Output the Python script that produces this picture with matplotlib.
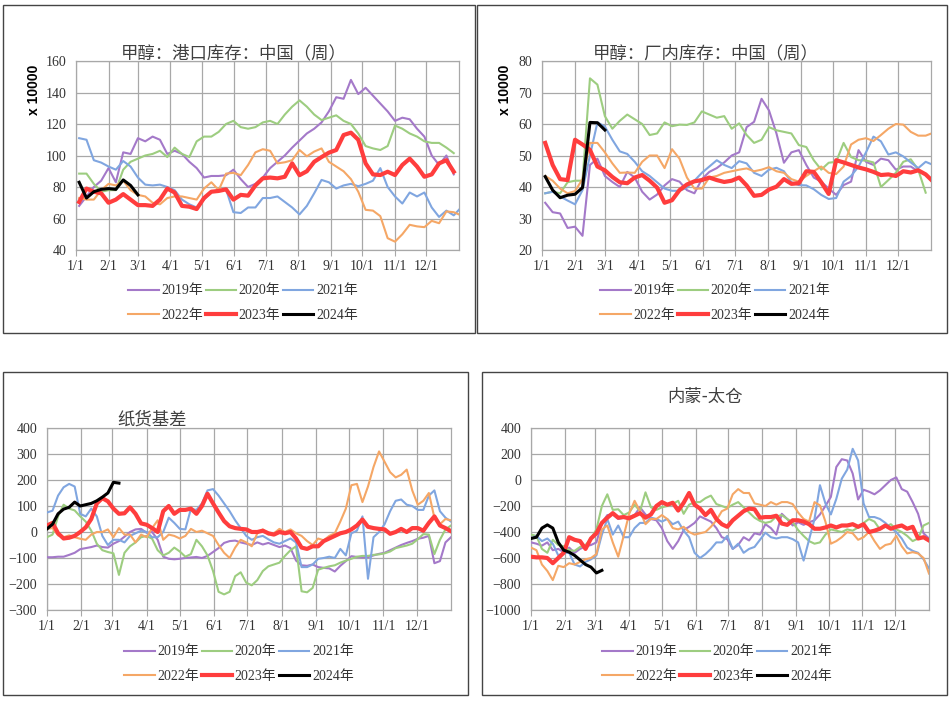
import numpy as np
import matplotlib
matplotlib.use('Agg')
import matplotlib.pyplot as plt
from matplotlib.patches import Rectangle

W, H = 949, 701

# ---- data ----
month_days = [0, 31, 59, 90, 120, 151, 181, 212, 243, 273, 304, 334]
month_labels = ['1/1', '2/1', '3/1', '4/1', '5/1', '6/1', '7/1', '8/1', '9/1', '10/1', '11/1', '12/1']
years = ['2019年', '2020年', '2021年', '2022年', '2023年', '2024年']

week_days = 3 + 7 * np.arange(53)      # weekly samples (day of year)
daily_days = np.arange(0, 366, 5)       # daily series read every 5 days

# 甲醇：港口库存 (x10000)
port_2019 = [68, 74, 80, 84, 92, 83, 102, 101, 111, 109, 112, 110, 101, 103, 101, 96, 92, 86, 87, 87,
             87.5, 91, 85, 80, 82, 86, 92, 96, 100, 105, 109.5, 114, 117, 121, 128, 137, 136, 148, 139, 143,
             138, 133, 128, 122, 124, 123, 117, 112, 100, 94, 100, 88]
port_2020 = [88.5, 88.5, 82, 77, 78, 78, 91, 96, 98, 100, 101, 103, 99, 105, 101, 99, 109, 112, 112, 115,
             120, 122, 118, 117, 118, 121, 122, 120, 126, 131, 135, 131, 126, 122.5, 124, 125.5, 122, 120, 114, 106,
             104.5, 103.5, 106, 119, 117, 114, 112, 109, 108, 108, 105, 101.5]
port_2021 = [111, 110, 97, 95.5, 93, 91, 96.5, 93, 86, 81.5, 81, 81.5, 80, 78, 72, 69, 67, 72, 77, 78,
             78.5, 64, 63.5, 67, 67, 73, 73, 74, 70.5, 67, 62.6, 68, 76, 84.5, 83, 79, 81, 82, 80.5, 82,
             84, 92, 80, 74, 69.5, 76.5, 74, 76.5, 67, 61, 65, 62, 67]
port_2022 = [73, 72, 72, 78, 82, 81, 84, 78, 75, 74, 70, 69, 73, 74, 74, 73, 72, 79, 83, 78,
             88.5, 89, 87.5, 94, 102, 104, 103, 95, 95.7, 97, 103.5, 99.5, 102.5, 104.5, 96, 93, 90, 85, 77, 65.5,
             65, 61.5, 47.5, 45.3, 50, 56, 55, 54.5, 58.5, 57, 64.5, 64, 62]
port_2023 = [70.5, 79, 77, 76, 70, 72, 75.5, 72, 68.5, 68.5, 68, 72, 79, 76.5, 68, 67.5, 66, 73, 77, 77.5,
             78.5, 72, 75, 74.5, 81, 85.5, 86, 85.5, 86.5, 95, 87.5, 90, 96, 99, 101.8, 103.5, 113, 114.5, 110, 95,
             88, 87.6, 89.7, 87.6, 94, 98, 93, 86.5, 88, 95, 97, 89.7]
port_2024 = [83, 73, 77, 78.5, 79, 78.5, 84.5, 81, 75]

# 甲醇：厂内库存 (x10000)
factory_2019 = [35, 32, 31.6, 27, 27.4, 24.5, 47, 49, 43.5, 41.6, 40, 44.8, 43, 38.5, 36, 37.6, 40.5, 42.5, 41.7, 39,
                38, 42.5, 44.8, 46, 47.8, 50, 51, 59, 60.7, 68, 64.3, 57, 47.7, 51, 51.7, 47, 43, 41.7, 39.5, 37.5,
                40.6, 41.7, 51.7, 48, 47, 49, 48.5, 45.5, 46.5, 46.5, 45]
factory_2020 = [38, 38.5, 38, 41.5, 42, 42, 74.5, 72.5, 62.5, 58.5, 61, 63, 61.5, 60, 56.5, 57, 60.5, 59.3, 59.8, 59.7,
                60.5, 64, 63, 62, 62.5, 58.5, 60.2, 56.5, 54, 55, 59, 58, 57.5, 57, 53.3, 52.7, 48.5, 45.5, 47.7, 48,
                54, 49.5, 48.5, 48.4, 47.8, 40, 42.2, 44.5, 48, 48.8, 45.5, 38.2]
factory_2021 = [38, 38.5, 37, 35.7, 34.5, 39, 50, 60.5, 59.2, 55, 51.3, 50.5, 48, 45, 43.5, 41.5, 39.5, 38.8, 38.8, 39.8,
                42, 44.5, 46.5, 48.5, 47, 46, 48.2, 47.5, 44.5, 43.5, 45.5, 46.1, 45, 41.5, 40.6, 40.5, 39.3, 37.5, 36.2, 36.5,
                41.7, 43.5, 46.5, 51, 56, 54.5, 50.3, 51, 49.7, 47.8, 46, 48, 47]
factory_2022 = [43.5, 42, 39.5, 38, 38.7, 42.5, 54, 54, 51, 47.5, 44.5, 44.6, 44.5, 48, 50, 50, 46, 52, 49, 43,
                39.5, 39.5, 43, 43.5, 44.5, 45, 45.5, 45.9, 45, 45.5, 46.3, 45, 44.5, 42.5, 41.7, 43.5, 45, 46.5, 44.5, 44.1,
                46.5, 53.5, 55, 55.5, 54.6, 56.5, 58.5, 60, 59.8, 57.5, 56.3, 56.3, 57.2]
factory_2023 = [54, 47, 42.5, 42.2, 55, 53.5, 51.8, 46.5, 45.3, 43.2, 41.5, 41.2, 43, 43.8, 42, 39.8, 35, 35.8, 39, 40.8,
                41.8, 42.2, 43, 42.2, 41.6, 42, 43, 40.5, 37.2, 37.5, 39.2, 40.1, 42.5, 41, 41.2, 45, 44.8, 41.5, 37.8, 48.5,
                47.8, 47, 46.2, 45.6, 44.8, 43.8, 44, 43.5, 45, 44.6, 45.3, 44, 41.7]
factory_2024 = [43.3, 39, 36.6, 37.4, 37.7, 39.8, 60.5, 60.4, 58.1]

# 纸货基差
basis_2019 = [-97, -97, -95, -95, -88, -80, -66, -62, -58, -52, -58, -60, -45, -35, -18, 0, 10, 12, -3, 0,
              -30, -95, -103, -105, -103, -100, -98, -96, -100, -92, -77, -62, -42, -35, -33, -40, -45, -50, -40, -48,
              -42, -50, -58, -52, -62, -110, -128, -130, -125, -135, -138, -140, -152, -130, -112, -93, -96, -98, -97, -90,
              -84, -80, -70, -60, -50, -42, -35, -26, -22, -15, -120, -112, -40, -20]
basis_2020 = [-20, -10, 60, 105, 90, 83, 60, 40, 5, -45, -70, -77, -82, -165, -80, -55, -40, -20, -15, -26,
              -70, -90, -80, -60, -75, -95, -85, -30, -55, -90, -150, -230, -240, -230, -170, -155, -195, -205, -185, -150,
              -132, -125, -118, -92, -70, -55, -228, -232, -215, -145, -138, -132, -128, -118, -110, -103, -95, -92, -92, -88,
              -86, -82, -75, -62, -57, -52, -45, -28, -8, -10, -85, -30, 10, 25]
basis_2021 = [75, 82, 140, 172, 185, 175, 70, 60, 90, 60, -15, -50, -30, -30, -40, -15, -5, 5, 0, -20,
              -20, 0, 55, 35, 12, 10, 89, 85, 110, 160, 165, 140, 110, 80, 45, 15, -15, -30, -20, -15,
              -28, -40, -45, -35, -25, -40, -135, -135, -125, -103, -100, -95, -100, -65, -90, -5, 5, 60, -180, -20,
              0, 30, 80, 120, 125, 105, 100, 85, 85, 140, 160, 80, 55, 40]
basis_2022 = [12, 15, -13, -20, -13, -20, -26, -30, -10, 0, 0, 10, -20, 15, -10, -10, -40, -10, -20, 15,
              45, -30, -10, -15, -25, -15, 12, 0, 5, -5, -15, -50, -80, -100, -60, -30, -40, -55, -5, 10,
              -10, -5, 12, 0, 10, -5, -15, -35, -50, -25, -32, -15, -5, 40, 90, 180, 185, 115, 175, 250,
              310, 270, 230, 210, 220, 240, 160, 105, 120, 150, 55, 30, 50, 45]
basis_2023 = [25, 35, -5, -25, -22, -15, 0, 18, 50, 110, 130, 118, 90, 70, 72, 95, 70, 33, 28, 15,
              0, 80, 100, 70, 85, 85, 90, 70, 100, 147, 110, 75, 42, 22, 15, 12, 10, 0, 0, 5,
              -5, -10, 0, -5, 0, -25, -60, -65, -55, -55, -35, -25, -15, -5, 0, 10, 25, 48, 20, 15,
              12, 10, -7, 0, 12, 0, 15, 15, 5, 35, 60, 25, 15, 3]
basis_2024 = [12, 30, 70, 88, 95, 115, 100, 105, 110, 120, 134, 150, 191, 188]

# 内蒙-太仓
spread_2019 = [-480, -490, -505, -480, -540, -530, -555, -520, -560, -530, -510, -500, -480, -330, -270, -265, -300, -290, -285, -270,
               -210, -265, -300, -310, -370, -470, -530, -470, -385, -360, -330, -280, -300, -320, -370, -440, -455, -530, -500, -440,
               -465, -410, -420, -340, -370, -420, -260, -300, -350, -325, -345, -325, -310, -265, -200, -130, 100, 160, 150, 50,
               -150, -75, -90, -110, -80, -40, 0, 20, -70, -90, -170, -260, -410, -450]
spread_2020 = [-420, -430, -530, -560, -460, -500, -510, -540, -545, -515, -500, -450, -380, -200, -110, -230, -225, -270, -250, -190,
               -240, -95, -210, -230, -210, -200, -185, -160, -260, -190, -170, -170, -140, -120, -185, -200, -215, -190, -170, -210,
               -250, -290, -315, -330, -320, -280, -270, -300, -325, -385, -430, -470, -490, -480, -420, -380, -390, -400, -380, -390,
               -365, -330, -300, -320, -380, -360, -340, -380, -400, -430, -470, -450, -350, -330]
spread_2021 = [-450, -430, -470, -450, -490, -580, -560, -560, -650, -665, -630, -610, -580, -420, -300, -420, -350, -440, -440, -370,
               -330, -330, -290, -300, -320, -300, -340, -320, -390, -440, -560, -600, -570, -530, -480, -480, -430, -530, -490, -560,
               -530, -515, -460, -405, -440, -450, -440, -440, -455, -480, -620, -460, -300, -40, -180, -265, -145, 10, 80, 240,
               150, -180, -285, -285, -300, -330, -370, -400, -450, -520, -545, -560, -610, -680]
spread_2022 = [-520, -540, -650, -700, -770, -660, -670, -640, -650, -630, -610, -600, -570, -380, -350, -480, -590, -430, -260, -160,
               -240, -340, -300, -300, -270, -300, -370, -380, -360, -400, -420, -410, -400, -360, -310, -240, -220, -110, -70, -100,
               -100, -180, -190, -200, -170, -190, -170, -170, -185, -250, -300, -320, -170, -195, -320, -490, -470, -440, -400, -410,
               -460, -440, -400, -470, -530, -500, -490, -430, -510, -565, -555, -565, -600, -720]
spread_2023 = [-590, -595, -595, -600, -640, -600, -560, -440, -460, -470, -530, -450, -410, -330, -290, -255, -290, -285, -295, -275,
               -255, -290, -265, -200, -170, -190, -175, -235, -175, -100, -190, -220, -270, -230, -300, -340, -360, -310, -275, -240,
               -220, -225, -290, -285, -285, -275, -335, -345, -310, -310, -320, -340, -375, -375, -365, -350, -365, -350, -350, -340,
               -360, -340, -400, -390, -375, -350, -375, -360, -350, -375, -360, -450, -440, -465]
spread_2024 = [-450, -440, -370, -345, -370, -480, -540, -555, -580, -615, -650, -670, -715, -695]

# ---- style ----
colors = ['#a479c9', '#9dcd80', '#80a6e0', '#f5a766', '#ff3d3d', '#000000']
widths = [1.5, 1.5, 1.5, 1.5, 3.0, 2.2]
num_font = 'Liberation Serif'
cjk = ['Liberation Serif', 'Noto Sans CJK SC']
grid_c = '#a8a8a8'

fig = plt.figure(figsize=(W / 100, H / 100), dpi=100)


def box(x0, y0, x1, y1):
    fig.patches.append(Rectangle((x0 / W, 1 - y1 / H), (x1 - x0) / W, (y1 - y0) / H,
                                 transform=fig.transFigure, fill=False,
                                 edgecolor='#444444', lw=1.0))


def panel(rect, days, series, ylim, ystep, title, tpos, ylabel, lpos):
    l, t, r, b = rect
    ax = fig.add_axes([l / W, 1 - b / H, (r - l) / W, (b - t) / H])
    for i, s in enumerate(series):
        ax.plot(days[:len(s)], s, color=colors[i], lw=widths[i], label=years[i],
                zorder=3 + (i >= 4), solid_joinstyle='round')
    ax.set_xlim(0, 365)
    ax.set_ylim(*ylim)
    ax.set_xticks(month_days)
    ax.set_xticklabels(month_labels)
    ax.set_yticks(np.arange(ylim[0], ylim[1] + 1, ystep))
    ax.set_axisbelow(True)
    ax.grid(True, color=grid_c, lw=0.9)
    for sp in ax.spines.values():
        sp.set_color(grid_c)
        sp.set_linewidth(0.9)
    ax.tick_params(axis='x', length=4, color=grid_c, pad=3, labelsize=10,
                   labelcolor='#333333')
    ax.tick_params(axis='y', length=0, pad=7, labelsize=10, labelcolor='#333333')
    for lab in ax.get_xticklabels() + ax.get_yticklabels():
        lab.set_family(num_font)
    fig.text(tpos[0] / W, 1 - tpos[1] / H, title, ha='center', va='center',
             fontsize=12.5, color='#404040', family='Noto Sans CJK SC')
    if ylabel:
        fig.text(ylabel[0] / W, 1 - ylabel[1] / H, 'x 10000', rotation=90,
                 ha='center', va='center', fontsize=10, fontweight='bold',
                 family='Liberation Sans')
    h, lb = ax.get_legend_handles_labels()
    order = [0, 3, 1, 4, 2, 5]
    fig.legend([h[k] for k in order], [lb[k] for k in order], ncol=3,
               loc='center', bbox_to_anchor=(lpos[0] / W, 1 - lpos[1] / H),
               frameon=False, prop={'family': cjk, 'size': 10},
               handlelength=2.2, handletextpad=0.2, columnspacing=0.15,
               labelspacing=0.8, labelcolor='#333333')
    return ax


box(3, 5, 475, 333)
box(477, 5, 947, 333)
box(3, 372, 468, 695)
box(482, 372, 947, 695)

panel((76, 61, 459, 250), week_days,
      [port_2019, port_2020, port_2021, port_2022, port_2023, port_2024],
      (40, 160), 20, '甲醇：港口库存：中国（周）', (234, 53), (34, 90), (243, 303))
panel((542, 61, 931, 250), week_days,
      [factory_2019, factory_2020, factory_2021, factory_2022, factory_2023, factory_2024],
      (20, 80), 10, '甲醇：厂内库存：中国（周）', (706, 53), (505, 90), (715, 303))
panel((47, 428, 451, 610), daily_days,
      [basis_2019, basis_2020, basis_2021, basis_2022, basis_2023, basis_2024],
      (-300, 400), 100, '纸货基差', (152, 420), None, (239, 664))
panel((531, 428, 929, 610), daily_days,
      [spread_2019, spread_2020, spread_2021, spread_2022, spread_2023, spread_2024],
      (-1000, 400), 200, '内蒙-太仓', (705, 397), None, (717, 664))

fig.savefig('out.png', dpi=100, facecolor='white')
